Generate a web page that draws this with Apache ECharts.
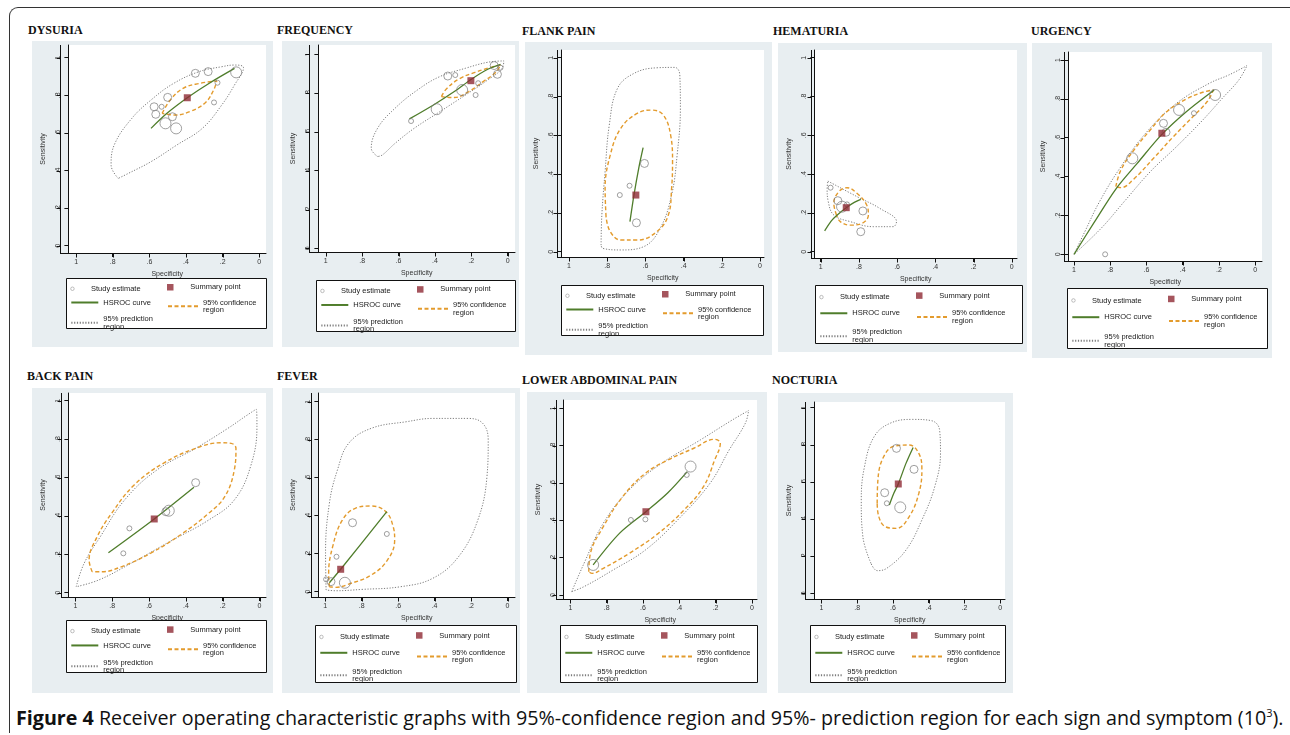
<!DOCTYPE html>
<html>
<head>
<meta charset="utf-8">
<style>
    html,body { margin:0; padding:0; background:#fff; width:1290px; height:735px; overflow:hidden; }
    #frame { position:absolute; left:9px; top:7px; width:1300px; height:725px;
             border-left:1px solid #333; border-top:1px solid #333; border-top-left-radius:9px; }
    .ttl { position:absolute; font:bold 12px "Liberation Serif", serif; color:#111; white-space:nowrap; line-height:14px; }
    .pnl { position:absolute; }
    #caption { position:absolute; left:16px; top:706px; font:19.7px/24px "Open Sans", sans-serif; color:#111; white-space:nowrap; }
    #caption sup { font-size:11px; line-height:0; }
</style>
<script src="https://cdn.jsdelivr.net/npm/echarts@6/dist/echarts.min.js"></script>
</head>
<body>
<div id="frame"></div>
<div id="caption"><b>Figure 4</b> Receiver operating characteristic graphs with 95%-confidence region and 95%- prediction region for each sign and symptom (10<sup>3</sup>).</div>
<script type="text/javascript">
// [specificity, sensitivity, weight]  weight: 1 small study .. 3 large study
var tickValues = [0, 0.2, 0.4, 0.6, 0.8, 1];
var tickLabels = ['0', '.2', '.4', '.6', '.8', '1'];
var legendNames = ['Study estimate', 'Summary point', 'HSROC curve', '95% confidence region', '95% prediction region'];

// DYSURIA
var dysStudy = [[0.349,0.917,2],[0.279,0.926,2],[0.228,0.867,1],[0.126,0.922,3],[0.247,0.762,1],[0.500,0.789,2],
                [0.574,0.739,2],[0.533,0.739,1],[0.565,0.699,2],[0.474,0.686,2],[0.512,0.651,3],[0.454,0.624,3]];
var dysSummary = [[0.393,0.787]];
var dysCurve = [[0.591,0.624],[0.504,0.704],[0.393,0.787],[0.275,0.863],[0.135,0.943]];
var dysConf = [[0.530,0.704],[0.486,0.775],[0.416,0.837],[0.328,0.863],[0.232,0.876],[0.249,0.828],[0.293,0.762],
               [0.372,0.716],[0.460,0.695],[0.530,0.704]];
var dysPred = [[0.770,0.358],[0.809,0.429],[0.790,0.540],[0.696,0.677],[0.591,0.775],[0.468,0.863],[0.328,0.926],
               [0.205,0.952],[0.135,0.961],[0.086,0.947],[0.135,0.855],[0.205,0.748],[0.311,0.624],[0.451,0.535],
               [0.591,0.447],[0.714,0.385],[0.770,0.358]];

// FREQUENCY
var freqStudy = [[0.531,0.656,1],[0.390,0.717,3],[0.329,0.888,2],[0.288,0.893,1],[0.250,0.816,3],[0.176,0.790,1],
                 [0.162,0.851,1],[0.074,0.942,2],[0.056,0.897,2],[0.039,0.931,1]];
var freqSummary = [[0.202,0.864]];
var freqCurve = [[0.540,0.667],[0.408,0.739],[0.293,0.808],[0.197,0.873],[0.109,0.923],[0.039,0.948]];
var freqConf = [[0.364,0.782],[0.337,0.821],[0.267,0.873],[0.179,0.907],[0.091,0.933],[0.039,0.945],[0.065,0.907],
                [0.135,0.859],[0.214,0.808],[0.293,0.777],[0.364,0.782]];
var freqPred = [[0.715,0.473],[0.750,0.515],[0.715,0.619],[0.619,0.722],[0.496,0.816],[0.373,0.885],[0.232,0.928],
                [0.109,0.959],[0.021,0.966],[0.030,0.928],[0.109,0.868],[0.232,0.790],[0.373,0.704],[0.513,0.619],
                [0.619,0.541],[0.689,0.481],[0.715,0.473]];

// FLANK PAIN
var flankStudy = [[0.734,0.292,1],[0.683,0.340,1],[0.605,0.455,2],[0.647,0.149,2]];
var flankSummary = [[0.650,0.292]];
var flankCurve = [[0.681,0.155],[0.660,0.292],[0.635,0.430],[0.612,0.536]];
var flankConf = [[0.806,0.180],[0.811,0.326],[0.784,0.498],[0.729,0.636],[0.643,0.713],[0.566,0.730],[0.506,0.704],
                 [0.468,0.601],[0.458,0.464],[0.463,0.326],[0.480,0.189],[0.540,0.103],[0.643,0.060],[0.729,0.060],
                 [0.784,0.103],[0.806,0.180]];
var flankPred = [[0.832,0.034],[0.828,0.189],[0.811,0.412],[0.789,0.653],[0.746,0.842],[0.660,0.919],[0.540,0.948],
                 [0.446,0.950],[0.420,0.911],[0.417,0.739],[0.434,0.498],[0.463,0.292],[0.523,0.120],[0.609,0.026],
                 [0.729,0.009],[0.823,0.017],[0.832,0.034]];

// HEMATURIA
var hemaStudy = [[0.948,0.330,1],[0.910,0.263,2],[0.888,0.232,3],[0.862,0.244,1],[0.779,0.210,2],[0.790,0.103,2]];
var hemaSummary = [[0.866,0.227]];
var hemaCurve = [[0.979,0.107],[0.945,0.158],[0.910,0.192],[0.866,0.227],[0.824,0.254],[0.790,0.270]];
var hemaConf = [[0.917,0.189],[0.931,0.249],[0.905,0.309],[0.862,0.330],[0.810,0.301],[0.759,0.241],[0.750,0.189],
                [0.784,0.146],[0.845,0.137],[0.897,0.155],[0.917,0.189]];
var hemaPred = [[0.962,0.364],[0.810,0.284],[0.690,0.223],[0.603,0.155],[0.621,0.129],[0.724,0.129],[0.845,0.155],
                [0.931,0.189],[0.960,0.258],[0.966,0.326],[0.962,0.364]];

// URGENCY
var urgStudy = [[0.828,0.000,1],[0.678,0.494,3],[0.506,0.674,2],[0.492,0.628,2],[0.420,0.743,3],[0.338,0.726,1],
                [0.221,0.820,3]];
var urgSummary = [[0.515,0.623]];
var urgCurve = [[1.000,0.000],[0.886,0.168],[0.769,0.336],[0.651,0.468],[0.515,0.617],[0.380,0.734],[0.226,0.846]];
var urgConf = [[0.769,0.348],[0.741,0.434],[0.669,0.537],[0.579,0.640],[0.488,0.734],[0.380,0.799],[0.289,0.834],
               [0.231,0.846],[0.262,0.789],[0.344,0.708],[0.452,0.605],[0.561,0.494],[0.669,0.388],[0.741,0.343],
               [0.769,0.348]];
var urgPred = [[1.000,0.000],[0.940,0.117],[0.859,0.271],[0.741,0.451],[0.597,0.631],[0.434,0.777],[0.253,0.880],
               [0.145,0.923],[0.045,0.971],[0.090,0.897],[0.181,0.803],[0.289,0.691],[0.434,0.554],[0.579,0.425],
               [0.723,0.271],[0.850,0.134],[1.000,0.000]];

// BACK PAIN
var backStudy = [[0.740,0.205,1],[0.707,0.335,1],[0.509,0.422,2],[0.493,0.427,3],[0.347,0.573,2]];
var backSummary = [[0.572,0.384]];
var backCurve = [[0.821,0.208],[0.572,0.384],[0.356,0.549]];
var backConf = [[0.909,0.109],[0.926,0.170],[0.882,0.292],[0.804,0.413],[0.681,0.561],[0.523,0.674],[0.347,0.752],
                [0.207,0.781],[0.154,0.778],[0.128,0.752],[0.137,0.639],[0.189,0.500],[0.277,0.413],[0.418,0.309],
                [0.593,0.205],[0.751,0.135],[0.856,0.109],[0.909,0.109]];
var backPred = [[0.996,0.031],[0.953,0.153],[0.865,0.292],[0.733,0.483],[0.558,0.639],[0.347,0.752],[0.172,0.856],
                [0.067,0.925],[0.018,0.955],[0.014,0.865],[0.049,0.656],[0.137,0.483],[0.277,0.378],[0.488,0.266],
                [0.698,0.153],[0.874,0.066],[0.996,0.031]];

// FEVER
var feverStudy = [[0.995,0.065,1],[0.968,0.053,2],[0.892,0.047,3],[0.938,0.184,1],[0.850,0.363,2],[0.662,0.304,1]];
var feverSummary = [[0.915,0.118]];
var feverCurve = [[0.977,0.047],[0.915,0.118],[0.662,0.421]];
var feverConf = [[0.977,0.026],[0.981,0.096],[0.959,0.237],[0.906,0.377],[0.835,0.439],[0.747,0.451],[0.667,0.421],
                 [0.627,0.342],[0.619,0.272],[0.658,0.167],[0.747,0.088],[0.871,0.040],[0.942,0.023],[0.977,0.026]];
var feverPred = [[0.995,0.009],[0.998,0.202],[0.977,0.465],[0.933,0.640],[0.871,0.781],[0.747,0.860],[0.552,0.895],
                 [0.411,0.912],[0.216,0.912],[0.136,0.886],[0.106,0.798],[0.113,0.605],[0.163,0.377],[0.269,0.184],
                 [0.411,0.070],[0.588,0.026],[0.800,0.012],[0.942,0.005],[0.995,0.009]];

// LOWER ABDOMINAL PAIN
var lapStudy = [[0.875,0.161,3],[0.667,0.402,1],[0.587,0.405,1],[0.359,0.643,1],[0.338,0.688,3]];
var lapSummary = [[0.584,0.446]];
var lapCurve = [[0.875,0.161],[0.730,0.330],[0.584,0.446],[0.463,0.548],[0.356,0.661]];
var lapConf = [[0.899,0.125],[0.890,0.223],[0.819,0.366],[0.712,0.527],[0.587,0.652],[0.463,0.723],[0.320,0.786],
               [0.205,0.834],[0.174,0.813],[0.205,0.723],[0.267,0.580],[0.374,0.455],[0.516,0.330],[0.676,0.223],
               [0.819,0.143],[0.881,0.116],[0.899,0.125]];
var lapPred = [[0.993,0.018],[0.925,0.170],[0.819,0.384],[0.676,0.563],[0.498,0.705],[0.285,0.830],[0.107,0.938],
               [0.018,0.988],[0.036,0.920],[0.125,0.777],[0.231,0.598],[0.409,0.402],[0.587,0.241],[0.765,0.134],
               [0.925,0.045],[0.993,0.018]];

// NOCTURIA
var nocStudy = [[0.580,0.781,2],[0.482,0.668,2],[0.646,0.542,2],[0.634,0.485,1],[0.559,0.463,3]];
var nocSummary = [[0.570,0.589]];
var nocCurve = [[0.620,0.476],[0.595,0.539],[0.570,0.589],[0.527,0.700],[0.487,0.786]];
var nocConf = [[0.688,0.485],[0.684,0.610],[0.652,0.736],[0.589,0.794],[0.509,0.799],[0.455,0.754],[0.438,0.664],
               [0.455,0.539],[0.509,0.413],[0.580,0.350],[0.643,0.359],[0.679,0.413],[0.688,0.485]];
var nocPred = [[0.723,0.162],[0.768,0.305],[0.777,0.503],[0.759,0.682],[0.705,0.844],[0.616,0.916],[0.491,0.937],
               [0.384,0.930],[0.339,0.880],[0.334,0.754],[0.366,0.575],[0.438,0.395],[0.527,0.233],[0.634,0.135],
               [0.688,0.122],[0.723,0.162]];

// layout of each panel, page pixels
// bg: grey panel, ax: x of spec 1 / spec 0, y of sens 1 / sens 0, white: plot region
var panels = [
    { title:'DYSURIA', t:[28,30], bg:[32,41,273,347], ax:[69,259,57.7,245.7], white:[61,45,266,253], leg:[66,278,266,328],
      d:[dysStudy, dysSummary, dysCurve, dysConf, dysPred] },
    { title:'FREQUENCY', t:[277,30], bg:[282,41,519,347], ax:[317.7,507.3,54.3,248.3], white:[310,45,515,252], leg:[316,280,515,331],
      d:[freqStudy, freqSummary, freqCurve, freqConf, freqPred] },
    { title:'FLANK PAIN', t:[522,31], bg:[525,42,772,355], ax:[565.7,760,57.7,251.7], white:[558,50,764,257], leg:[561,285,763,335],
      d:[flankStudy, flankSummary, flankCurve, flankConf, flankPred] },
    { title:'HEMATURIA', t:[773,31], bg:[778,43,1027,352], ax:[818.3,1011.7,57.7,251.7], white:[812,50,1017,258], leg:[815,285,1022,343],
      d:[hemaStudy, hemaSummary, hemaCurve, hemaConf, hemaPred] },
    { title:'URGENCY', t:[1031,31], bg:[1032,43,1272,358], ax:[1070.7,1255,60,254.3], white:[1065,52,1262,261], leg:[1067,288,1267,348],
      d:[urgStudy, urgSummary, urgCurve, urgConf, urgPred] },
    { title:'BACK PAIN', t:[27,376], bg:[32,388,273,693], ax:[69.3,259.3,400.7,592.7], white:[62,393,266,597], leg:[66,620,266,672],
      d:[backStudy, backSummary, backCurve, backConf, backPred] },
    { title:'FEVER', t:[277,376], bg:[282,388,520,693], ax:[319,507.3,401.7,591.7], white:[312,393,515,597], leg:[315,625,516,682],
      d:[feverStudy, feverSummary, feverCurve, feverConf, feverPred] },
    { title:'LOWER ABDOMINAL PAIN', t:[522,380], bg:[527,392,767,693], ax:[564.3,751.7,408.3,595], white:[557,400,757,599], leg:[560,625,757,682],
      d:[lapStudy, lapSummary, lapCurve, lapConf, lapPred] },
    { title:'NOCTURIA', t:[772,380], bg:[778,393,1013,693], ax:[813.3,1000,407.7,593.3], white:[806,402,1005,599], leg:[810,625,1005,682],
      d:[nocStudy, nocSummary, nocCurve, nocConf, nocPred] }
];

var axisFont = { fontFamily:'Liberation Sans', fontSize:7, color:'#333' };
var legFont = { fontFamily:'Liberation Sans', fontSize:7.5, color:'#222', lineHeight:7.5 };

function seg(x1, y1, x2, y2) {
    return { type: 'line', z: 10, silent: true, shape: { x1: x1, y1: y1, x2: x2, y2: y2 },
             style: { stroke: '#111', lineWidth: 1 } };
}

function drawPanel(p) {
    var bg = p.bg;
    var t = document.createElement('div');
    t.className = 'ttl';
    t.textContent = p.title;
    t.style.left = p.t[0] + 'px';
    t.style.top = (p.t[1] - 7) + 'px';
    document.body.appendChild(t);

    var div = document.createElement('div');
    div.className = 'pnl';
    div.style.left = bg[0] + 'px';
    div.style.top = bg[1] + 'px';
    div.style.width = (bg[2] - bg[0]) + 'px';
    div.style.height = (bg[3] - bg[1]) + 'px';
    document.body.appendChild(div);
    var chart = echarts.init(div);

    // the grid is the white plot region; the 0..1 range sits inside it with Stata's margins
    var ax = p.ax, wh = p.white;
    var sx = ax[1] - ax[0], sy = ax[3] - ax[2];
    var xMax = 1 + (ax[0] - wh[0]) / sx, xMin = -(wh[2] - ax[1]) / sx;
    var yMin = -(wh[3] - ax[3]) / sy, yMax = 1 + (ax[2] - wh[1]) / sy;
    var gl = wh[0] - bg[0], gt = wh[1] - bg[1], gw = wh[2] - wh[0], gh = wh[3] - wh[1];

    var lg = p.leg, lx = lg[0] - bg[0], ly = lg[1] - bg[1], lh = lg[3] - lg[1];
    var rows = [0.17 * lh, 0.47 * lh, 0.8 * lh];
    function leg(col, row, item, ih) {
        return {
            left: lx + (col ? 101 : 4.3), top: ly + rows[row] - ih / 2,
            itemWidth: col ? 30 : 27, itemHeight: ih, itemGap: 0, padding: 0,
            selectedMode: false, textStyle: legFont, data: [item],
            formatter: function (n) { return n.replace(' region', '\nregion'); }
        };
    }
    var noDot = { opacity: 0 };
    var legendBox = { type: 'rect', z: 1, silent: true,
                      shape: { x: lx + 0.5, y: ly + 0.5, width: lg[2] - lg[0], height: lh },
                      style: { fill: '#ffffff', stroke: '#111', lineWidth: 1 } };

    var sd = p.d;
    var tickFmt = function (v) { return tickLabels[Math.round(v * 5)]; };
    var axLine = { show: true, onZero: false, lineStyle: { color: '#111', width: 1 } };
    var axTick = { show: true, length: 4, customValues: tickValues, lineStyle: { color: '#111', width: 1 } };
    var option = {
        animation: false,
        backgroundColor: '#e8eef1',
        grid: { left: gl, top: gt, width: gw, height: gh,
                show: true, backgroundColor: '#ffffff', borderWidth: 0 },
        xAxis: {
            type: 'value', min: xMin, max: xMax, inverse: true,
            name: 'Specificity', nameLocation: 'middle', nameGap: 14, nameTextStyle: axisFont,
            axisLine: axLine, axisTick: axTick,
            axisLabel: { margin: 5.5, customValues: tickValues, formatter: tickFmt, fontFamily: 'Liberation Sans', fontSize: 7, color: '#333' },
            splitLine: { show: false }
        },
        yAxis: {
            type: 'value', min: yMin, max: yMax,
            name: 'Sensitivity', nameLocation: 'middle', nameGap: 14, nameTextStyle: axisFont,
            axisLine: axLine, axisTick: axTick,
            axisLabel: { margin: 6.5, rotate: 90, customValues: tickValues, formatter: tickFmt, fontFamily: 'Liberation Sans', fontSize: 7, color: '#333' },
            splitLine: { show: false }
        },
        legend: [
            leg(0, 0, { name: legendNames[0], icon: 'circle', itemStyle: { color: 'rgba(0,0,0,0)', borderColor: '#999', borderWidth: 0.8 } }, 3.5),
            leg(1, 0, { name: legendNames[1], icon: 'path://M0,0h10v10h-10z' }, 6.5),
            leg(0, 1, { name: legendNames[2], itemStyle: noDot }, 6),
            leg(1, 1, { name: legendNames[3], itemStyle: noDot }, 6),
            leg(0, 2, { name: legendNames[4], itemStyle: noDot }, 6)
        ],
        graphic: [legendBox],
        series: [
            { name: legendNames[4], type: 'line', data: sd[4], smooth: 0.4, symbol: 'none', clip: false, z: 2,
              lineStyle: { color: '#7d7d7d', width: 1, type: [1.2, 1.6] }, itemStyle: { color: '#7d7d7d' } },
            { name: legendNames[3], type: 'line', data: sd[3], smooth: 0.4, symbol: 'none', clip: false, z: 3,
              lineStyle: { color: '#e39b2d', width: 1.4, type: [4, 2.5] }, itemStyle: { color: '#e39b2d' } },
            { name: legendNames[2], type: 'line', data: sd[2], smooth: 0.3, symbol: 'none', clip: false, z: 4,
              lineStyle: { color: '#4f7d2b', width: 1.3 }, itemStyle: { color: '#4f7d2b' } },
            { name: legendNames[0], type: 'scatter', data: sd[0], clip: false, z: 5,
              symbol: 'circle', symbolSize: function (v) { return 2 + 3 * v[2]; },
              itemStyle: { color: 'rgba(0,0,0,0)', borderColor: '#7a7a7a', borderWidth: 0.9 } },
            { name: legendNames[1], type: 'scatter', data: sd[1], clip: false, z: 6,
              symbol: 'rect', symbolSize: 7, itemStyle: { color: '#8e2b35' } }
        ]
    };
    chart.setOption(option);

    // axis lines and ticks, placed through the chart's own scales
    var yLine = gl - 0.5, xLine = gt + gh + 0.5;
    var g = [legendBox, seg(yLine, gt, yLine, gt + gh + 1), seg(gl - 1, xLine, gl + gw, xLine)];
    tickValues.forEach(function (v) {
        var px = Math.round(chart.convertToPixel({ xAxisIndex: 0 }, v)) + 0.5;
        var py = Math.round(chart.convertToPixel({ yAxisIndex: 0 }, v)) + 0.5;
        g.push(seg(px, xLine, px, xLine + 4));
        g.push(seg(yLine - 4, py, yLine, py));
    });
    chart.setOption({ graphic: g });
}

for (var i = 0; i < panels.length; i++) {
    drawPanel(panels[i]);
}
</script>
</body>
</html>
